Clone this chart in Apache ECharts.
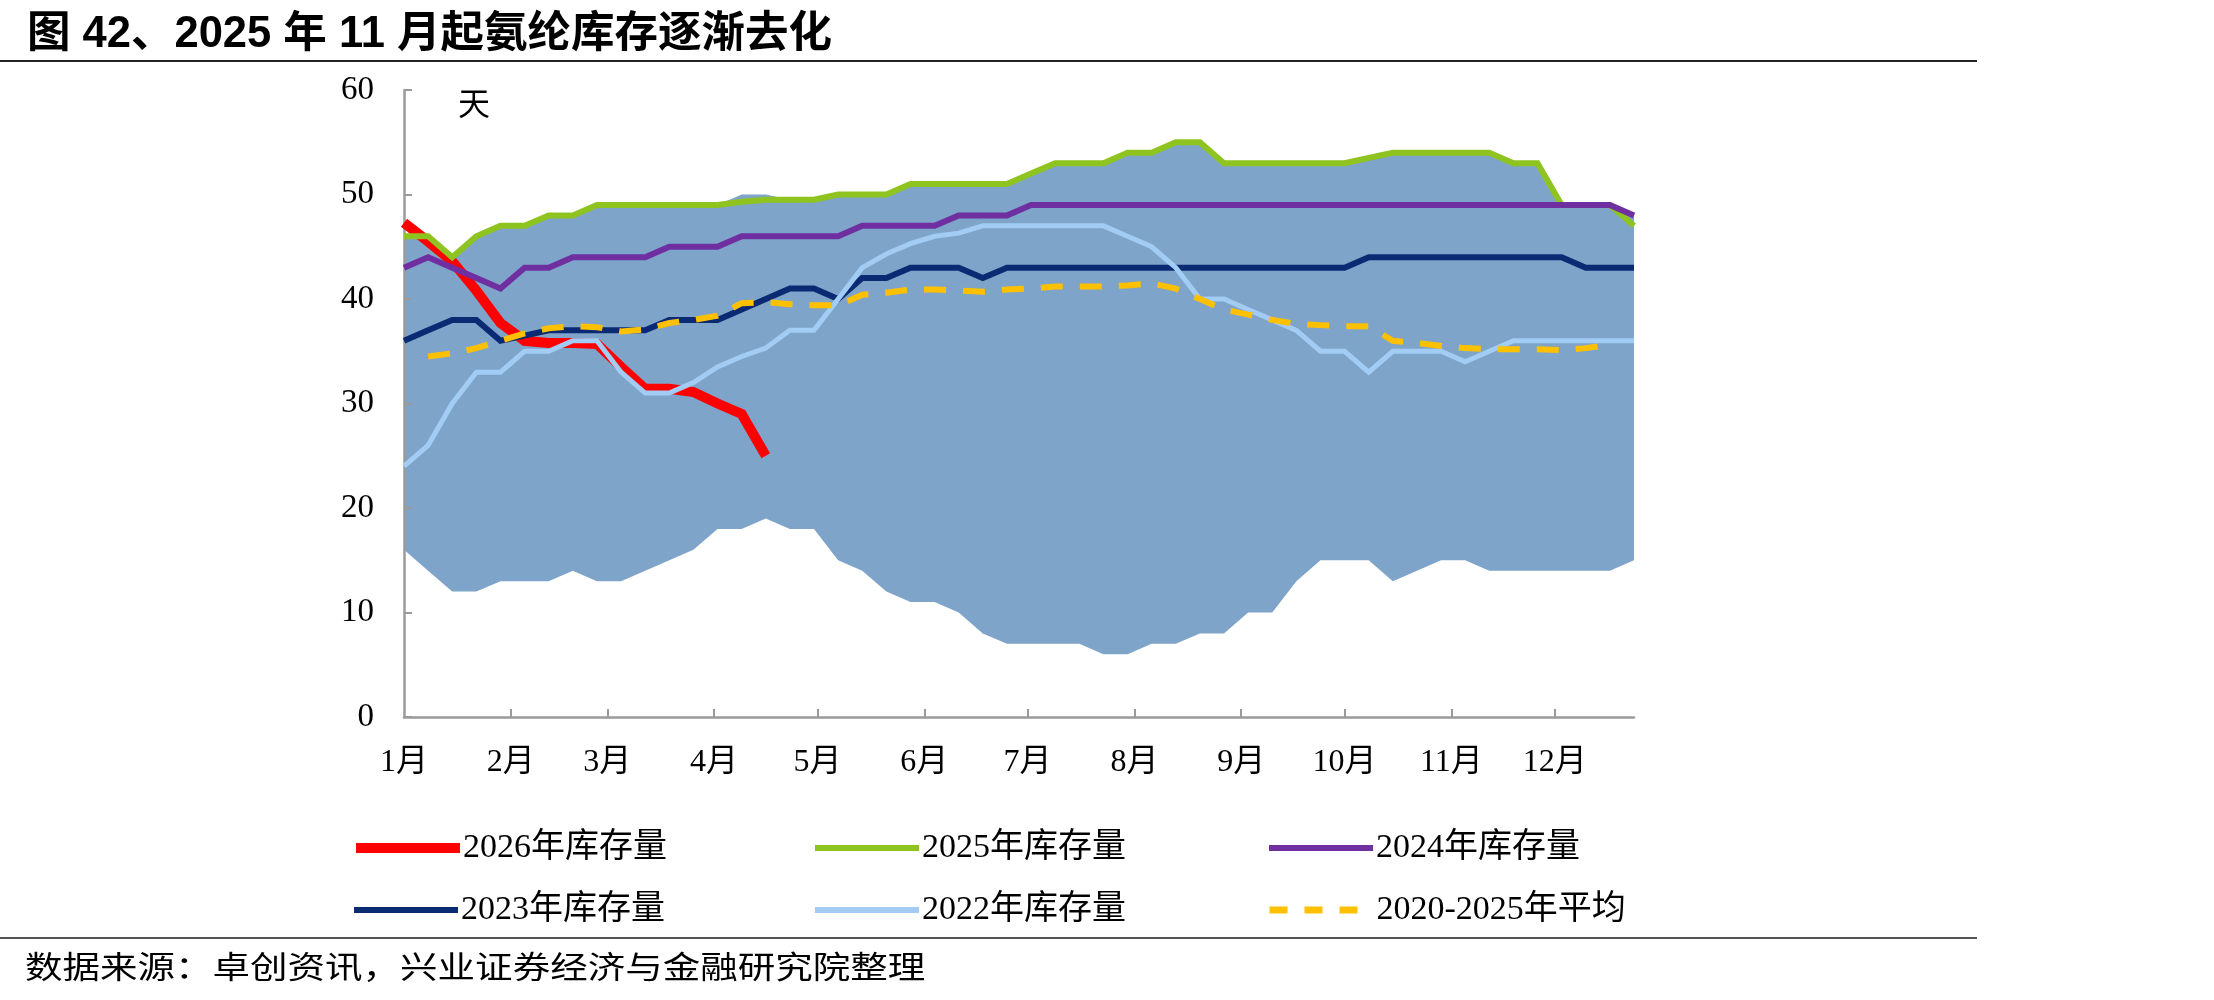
<!DOCTYPE html>
<html><head><meta charset="utf-8">
<script src="https://cdn.jsdelivr.net/npm/echarts@6/dist/echarts.min.js"></script>
<style>html,body{margin:0;padding:0;background:#fff}#c{width:2214px;height:1000px}</style>
</head><body><div id="c"></div>
<script>
// ---- data (weekly points, week 0 = first week of January) ----
const monthLabels = ['1月','2月','3月','4月','5月','6月','7月','8月','9月','10月','11月','12月'];
const monthStartDays = [0,31,59,90,120,151,181,212,243,273,304,334];
const yTicks = [0,10,20,30,40,50,60];

const inv2026 = [47.3,45.5,43.6,40.8,37.7,36,35.8,35.8,35.7,33.5,31.4,31.4,31.1,30,29,25];
const inv2025 = [46,46,44,46,47,47,48,48,49,49,49,49,49,49,49.3,49.5,49.5,49.5,50,50,50,51,51,51,51,51,52,53,53,53,54,54,55,55,53,53,53,53,53,53,53.5,54,54,54,54,54,53,53,49,49,49,47];
const inv2024 = [43,44,43,42,41,43,43,44,44,44,44,45,45,45,46,46,46,46,46,47,47,47,47,48,48,48,49,49,49,49,49,49,49,49,49,49,49,49,49,49,49,49,49,49,49,49,49,49,49,49,49,48];
const inv2023 = [36,37,38,38,36,36.5,37,37,37,37,37,38,38,38,39,40,41,41,40,42,42,43,43,43,42,43,43,43,43,43,43,43,43,43,43,43,43,43,43,43,44,44,44,44,44,44,44,44,44,43,43,43];
const inv2022 = [24,26,30,33,33,35,35,36,36,33,31,31,32,33.5,34.5,35.3,37,37,40,43,44.3,45.3,46,46.3,47,47,47,47,47,47,46,45,43,40,40,39,38,37,35,35,33,35,35,35,34,35,36,36,36,36,36,36];
const avg2020_2025 = [null,34.5,34.8,35.3,36,36.7,37.2,37.4,37.3,36.9,37.1,37.7,38,38.4,39.6,39.7,39.5,39.4,39.4,40.4,40.6,40.9,40.9,40.8,40.7,40.9,41,41.2,41.2,41.2,41.3,41.5,41,40,39,38.5,38,37.6,37.5,37.4,37.4,36,35.8,35.5,35.3,35.2,35.2,35.2,35.1,35.3,35.6,null];
const rangeLow = [16,14,12,12,13,13,13,14,13,13,14,15,16,18,18,19,18,18,15,14,12,11,11,10,8,7,7,7,7,6,6,7,7,8,8,10,10,13,15,15,15,13,14,15,15,14,14,14,14,14,14,15];
const rangeHigh = [46,46,44,46,47,47,48,48,49,49,49,49,49,49,50,50,49.5,49.5,50,50,50,51,51,51,51,51,52,53,53,53,54,54,55,55,53,53,53,53,53,53,53.5,54,54,54,54,54,53,53,49,49,49,48];

const names = ['2026年库存量','2025年库存量','2024年库存量','2023年库存量','2022年库存量','2020-2025年平均'];

// ---- build ----
const toPts = arr => arr.map((v,i)=>[i*7, v]);
const serif = '"Liberation Serif","Times New Roman","Noto Sans CJK SC",serif';
const sans = '"Liberation Sans",Arial,"Noto Sans CJK SC",sans-serif';

const chart = echarts.init(document.getElementById('c'), null, {renderer:'canvas'});

function lineSeries(name, data, color, width, dash, z){
  return {
    name, type:'line', data: toPts(data), symbol:'none', showSymbol:false,
    lineStyle:{color, width, type: dash || 'solid', cap:'butt', join:'miter'},
    itemStyle:{color}, z, animation:false, connectNulls:false
  };
}
function legendAt(name, left, top, width, dash){
  return {
    data:[name], left, top, orient:'horizontal', itemWidth:104, itemHeight:10, itemGap:0,
    lineStyle:{width, type: dash || 'inherit'},
    itemStyle:{color:'rgba(0,0,0,0)', borderColor:'rgba(0,0,0,0)', borderWidth:0, opacity:0},
    textStyle:{fontFamily:serif, fontSize:34, color:'#000', padding:[0,0,0,-2]},
    selectedMode:false
  };
}

const option = {
  backgroundColor:'#fff',
  animation:false,
  title:{
    text:'图 42、2025 年 11 月起氨纶库存逐渐去化', left:22, top:8,
    textStyle:{fontFamily:sans, fontWeight:'bold', fontSize:43.5, color:'#000'}
  },
  grid:{left:404, right:580, top:90, bottom:283, containLabel:false},
  xAxis:{
    type:'value', min:0, max:357, z:3,
    axisLine:{show:true, lineStyle:{color:'#9a9a9a', width:2.5}},
    axisTick:{show:true, inside:true, length:8, lineStyle:{color:'#9a9a9a', width:2}, customValues: monthStartDays.slice(1)},
    axisLabel:{customValues: monthStartDays, formatter: v => monthLabels[monthStartDays.indexOf(v)],
      fontFamily:serif, fontSize:32, color:'#000', margin:30},
    splitLine:{show:false}
  },
  yAxis:{
    type:'value', min:0, max:60, interval:10, z:3,
    axisLine:{show:true, lineStyle:{color:'#9a9a9a', width:2.5}},
    axisTick:{show:true, inside:true, length:8, lineStyle:{color:'#9a9a9a', width:2}},
    axisLabel:{fontFamily:serif, fontSize:33, color:'#000', margin:30},
    splitLine:{show:false}
  },
  legend:[
    legendAt(names[0], 346, 826, 10),
    legendAt(names[1], 807, 826, 6),
    legendAt(names[2], 1261, 826, 6),
    legendAt(names[3], 346, 888, 6),
    legendAt(names[4], 807, 888, 6),
    legendAt(names[5], 1261, 888, 7, [18,17])
  ],
  graphic:[
    {type:'rect', left:0, top:60, shape:{width:1977, height:2}, style:{fill:'#222'}, silent:true},
    {type:'rect', left:0, top:937, shape:{width:1977, height:2}, style:{fill:'#555'}, silent:true},
    {type:'text', left:458, top:87, style:{text:'天', fontFamily:'"Noto Sans CJK SC"', fontSize:32, fill:'#000'}},
    {type:'text', left:25, top:951, scaleX:1.21, style:{text:'数据来源：卓创资讯，兴业证券经济与金融研究院整理', fontFamily:'"Noto Sans CJK SC"', fontSize:31, fill:'#000'}}
  ],
  series:[
    {name:'rangeHigh', type:'line', data: toPts(rangeHigh), symbol:'none',
      lineStyle:{width:0, opacity:0}, areaStyle:{color:'#7EA4C9', opacity:1}, z:1, silent:true},
    {name:'rangeLow', type:'line', data: toPts(rangeLow), symbol:'none',
      lineStyle:{width:0, opacity:0}, areaStyle:{color:'#FFFFFF', opacity:1}, z:2, silent:true},
    lineSeries(names[0], inv2026, '#FF0000', 10, null, 4),
    lineSeries(names[1], inv2025, '#8FC31F', 6, null, 5),
    lineSeries(names[2], inv2024, '#6F2FA0', 6, null, 6),
    lineSeries(names[3], inv2023, '#0B2A74', 6, null, 7),
    lineSeries(names[4], inv2022, '#A2CCF3', 5, null, 8),
    lineSeries(names[5], avg2020_2025, '#FFC000', 6, [22,17], 9)
  ]
};
chart.setOption(option);
</script>
</body></html>
